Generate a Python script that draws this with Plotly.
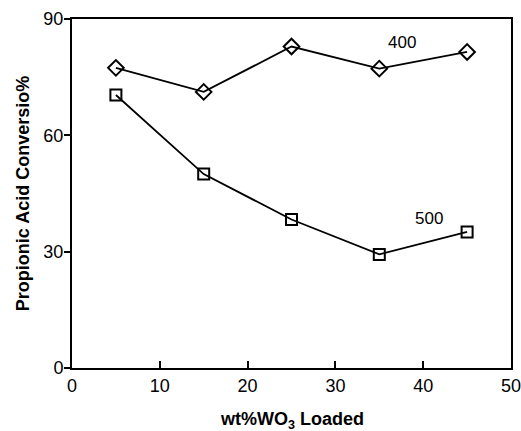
import plotly.graph_objects as go

# WO3 loading (wt%) and propionic acid conversion (%) at two temperatures
wo3_loading = [5, 15, 25, 35, 45]
conv_400 = [77.4, 71.2, 82.9, 77.2, 81.5]
conv_500 = [70.4, 50.0, 38.3, 29.3, 35.1]

x_ticks = [0, 10, 20, 30, 40, 50]
y_ticks = [0, 30, 60, 90]

FONT = "Liberation Sans, Arial, Helvetica, sans-serif"

fig = go.Figure()

fig.add_trace(go.Scatter(
    x=wo3_loading, y=conv_400, mode="lines+markers", name="400",
    line=dict(color="black", width=1.8),
    marker=dict(symbol="diamond-open", size=12, color="black", line=dict(width=2)),
))
fig.add_trace(go.Scatter(
    x=wo3_loading, y=conv_500, mode="lines+markers", name="500",
    line=dict(color="black", width=1.8),
    marker=dict(symbol="square-open", size=11, color="black", line=dict(width=2)),
))

# Series labels
fig.add_annotation(x=37.6, y=83.9, text="400", showarrow=False,
                   font=dict(family=FONT, size=17, color="black"))
fig.add_annotation(x=40.7, y=38.5, text="500", showarrow=False,
                   font=dict(family=FONT, size=17, color="black"))

# x-axis title placed below the tick labels
fig.add_annotation(x=0.5, y=0, xref="paper", yref="paper",
                   xanchor="center", yanchor="middle", yshift=-52,
                   borderpad=0,
                   text="<b>wt%WO<sub>3</sub> Loaded</b>", showarrow=False,
                   font=dict(family=FONT, size=18, color="black"))

fig.update_layout(
    width=521, height=431,
    margin=dict(l=72, r=10, t=19, b=63),
    paper_bgcolor="white", plot_bgcolor="white",
    showlegend=False,
    font=dict(family=FONT, color="black"),
)

fig.update_xaxes(
    range=[0, 50], tickvals=x_ticks, ticktext=[str(v) for v in x_ticks],
    ticks="inside", ticklen=7, tickwidth=2, tickcolor="black",
    ticklabeloverflow="allow",
    showline=True, linecolor="black", linewidth=2, mirror=True,
    showgrid=False, zeroline=False, automargin=False,
    tickfont=dict(family=FONT, size=18, color="black"),
)
fig.update_yaxes(
    range=[0, 90], tickvals=y_ticks, ticktext=[str(v) for v in y_ticks],
    ticks="outside", ticklen=6, tickwidth=2, tickcolor="black",
    ticklabelstandoff=-3, ticklabeloverflow="allow",
    showline=True, linecolor="black", linewidth=2, mirror=True,
    showgrid=False, zeroline=False, automargin=False,
    tickfont=dict(family=FONT, size=18, color="black"),
    title=dict(text="<b>Propionic Acid Conversio%</b>",
               font=dict(family=FONT, size=18, color="black"), standoff=9),
)

fig.write_html("out.html")
